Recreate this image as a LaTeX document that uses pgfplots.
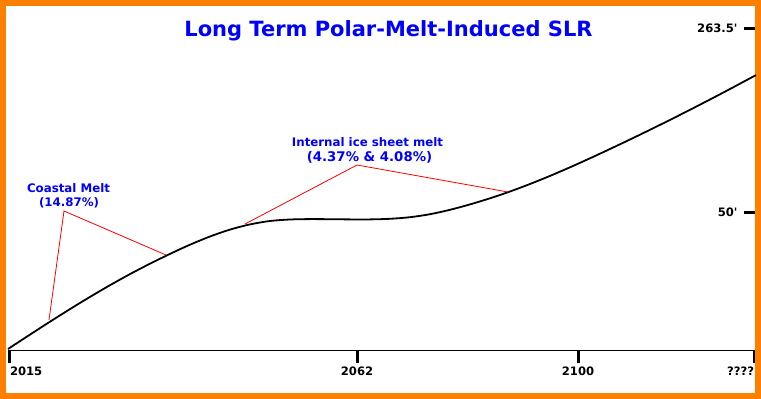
\documentclass[border=0pt]{standalone}
\usepackage{pgfplots}
\pgfplotsset{compat=1.18}
\usepackage{fontspec}
\setmainfont{DejaVu Sans}[Ligatures=TeXOff]
\definecolor{frameorange}{RGB}{255,128,0}
\definecolor{txtblue}{RGB}{0,0,255}
\begin{document}
\begin{tikzpicture}
\begin{axis}[
  scale only axis,
  width=747pt, height=344pt,
  xmin=8, xmax=755, ymin=0, ymax=344,
  clip=false,
  axis x line*=bottom,
  axis y line*=right,
  y axis line style={draw=none},
  x axis line style={line width=1pt, black},
  xtick={10,357,578,754},
  xticklabels={\makebox[0pt][l]{2015},2062,2100,\makebox[0pt][r]{????}},
  ytick={321.5,137.5},
  yticklabels={263.5',50'},
  tick style={black, line width=3pt},
  major tick length=13pt,
  xtick align=outside,
  ytick align=inside,
  y tick style={xshift=1.5pt},
  ticklabel style={font=\fontsize{11.6}{13}\selectfont\bfseries, text=black},
  yticklabel style={anchor=east, xshift=-14pt},
  minor tick num=0,
]
% frame
\draw[frameorange, line width=6pt] (axis cs:3,-46) rectangle (axis cs:758,347);
% title
\node[anchor=base, text=txtblue, font=\fontsize{21}{24}\selectfont\bfseries] at (axis cs:388.5,313) {Long Term Polar-Melt-Induced SLR};
% curve
\addplot[black, line width=1.8pt, smooth] coordinates {
  (8,1) (30,15.4) (50,28.3) (70,40.9) (90,53.1) (110,64.8) (130,75.9)
  (150,86.3) (170,96.1) (190,105.3) (210,113.5) (230,120.4) (250,125.6)
  (270,129.0) (290,130.5) (310,130.9) (330,130.8) (350,130.6) (370,130.6)
  (390,131.2) (410,132.8) (430,135.8) (450,140.2) (470,145.6) (490,151.7)
  (510,158.5) (530,166.0) (550,174.1) (570,182.7) (590,191.7) (610,201.0)
  (630,210.5) (650,220.2) (670,230.1) (690,240.2) (710,250.5) (730,261.0)
  (750,271.7) (756,274.9)
};
% annotations
\draw[red, line width=0.8pt] (axis cs:49,30) -- (axis cs:64,139) -- (axis cs:166,95);
\draw[red, line width=0.8pt] (axis cs:245,126) -- (axis cs:357,185) -- (axis cs:508,158);
\node[anchor=base, text=txtblue, font=\fontsize{11.8}{13}\selectfont\bfseries] at (axis cs:68.5,157) {Coastal Melt};
\node[anchor=base, text=txtblue, font=\fontsize{11.8}{13}\selectfont\bfseries] at (axis cs:69,143) {(14.87\%)};
\node[anchor=base, text=txtblue, font=\fontsize{11.8}{13}\selectfont\bfseries] at (axis cs:367.5,203) {Internal ice sheet melt};
\node[anchor=base, text=txtblue, font=\fontsize{13.3}{15}\selectfont\bfseries] at (axis cs:369.5,188) {(4.37\% \& 4.08\%)};
\end{axis}
\end{tikzpicture}
\end{document}
